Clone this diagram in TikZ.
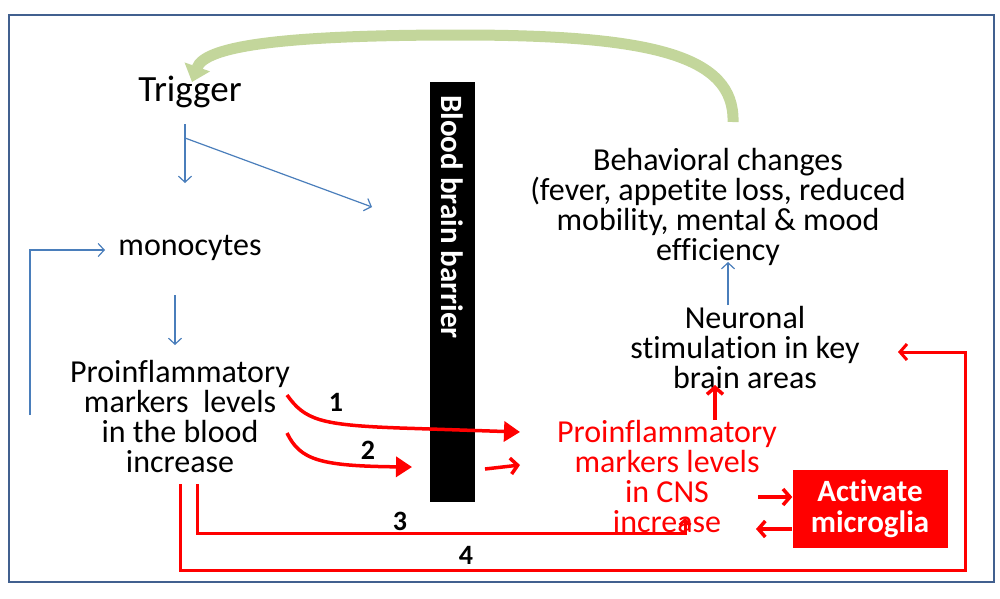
\documentclass[tikz,border=0pt]{standalone}
\usepackage{fontspec}
\setmainfont{Carlito}[Ligatures=NoCommon]
\usetikzlibrary{arrows.meta}
\definecolor{frame}{HTML}{41608F}
\definecolor{bl}{HTML}{4A7EBB}
\definecolor{gr}{HTML}{C3D69B}
\definecolor{rd}{HTML}{FF0000}
\begin{document}
\begin{tikzpicture}[x=1pt,y=-1pt,
  txt/.style={align=center,font=\fontsize{32}{30}\selectfont,inner sep=0},
  rtxt/.style={txt,text=rd},
  num/.style={font=\bfseries\fontsize{28}{30}\selectfont,inner sep=0},
  barr/.style={draw=bl,line width=1.2pt,-{Straight Barb[length=6pt,width=13pt]}},
  rarr/.style={draw=rd,line width=3.5pt,-{Straight Barb[length=7pt,width=16pt]}},
  rarrb/.style={draw=rd,line width=3.5pt,-{Triangle[length=16pt,width=20pt]}}]
\useasboundingbox (0,0) rectangle (1000,598);
\draw[frame,line width=2.5pt] (9,15) rectangle (994,582);
\node[txt,font=\fontsize{37}{37}\selectfont] (trig) at (190,92) {Trigger};
\node[txt] (mono) at (190,248) {monocytes};
\node[txt] (blood) at (180,416) {Proinflammatory\\markers\ \ levels\\in the blood\\increase};
\fill[black] (430,82) rectangle (475,502);
\node[rotate=-90,text=white,font=\bfseries\fontsize{31}{33}\selectfont,anchor=west,inner sep=0] (bbb) at (452,95) {Blood brain barrier};
\node[txt] (beh) at (718,207) {Behavioral changes\\(fever, appetite loss, reduced\\mobility, mental \& mood\\efficiency};
\node[txt] (neu) at (745,347) {Neuronal\\stimulation in key\\brain areas};
\node[rtxt] (cns) at (667,476) {Proinflammatory\\markers levels\\in CNS\\increase};
\node[fill=rd,text=white,font=\bfseries\fontsize{31}{31}\selectfont,align=center,minimum width=155pt,minimum height=78pt,inner sep=0] (mic) at (870,509) {Activate\\microglia};
% blue
\coordinate (t0) at (185,124);
\coordinate (t1) at (185,138);
\draw[bl,line width=1.2pt] (t0)--(t1);
\draw[barr] (t1)--(185,183);
\draw[barr] (t1)--(372,207);
\coordinate (l0) at (30,415);
\coordinate (l1) at (105,250);
\draw[barr] (l0)--(30,250)--(l1);
\draw[barr] (175,295)--(175,345);
\draw[barr] (728,305)--(728,262);
% red
\coordinate (c1) at (715,420);
\coordinate (c2) at (715,385);
\draw[rarr] (c1)--(c2);
\draw[rarrb] (287,395) .. controls (305,420) and (320,425) .. (400,428) -- (520,432);
\node[num] (n1) at (336,402) {1};
\draw[rarrb] (287,433) .. controls (300,460) and (320,466) .. (412,467);
\node[num] (n2) at (368,450) {2};
\draw[rarr] (485,469)--(520,465);
\draw[rarr] (758,497)--(mic.west|-0,497);
\draw[rarr] (mic.west|-0,529)--(756,529);
\draw[draw=rd,line width=3pt,-{Straight Barb[length=5pt,width=11pt]}] (197,484)--(197,533)--(685,533)--(685,518);
\node[num] (n3) at (400,521) {3};
\draw[draw=rd,line width=3pt,-{Straight Barb[length=7pt,width=16pt]}] (180,484)--(180,570)--(965,570)--(965,352)--(898,352);
\node[num] (n4) at (466,555) {4};
% green
\draw[gr,line width=11pt,-{Triangle[length=16pt,width=26pt]}] (733,122) .. controls (735,55) and (650,35) .. (460,35) .. controls (290,35) and (205,45) .. (192,82);
\end{tikzpicture}
\end{document}
